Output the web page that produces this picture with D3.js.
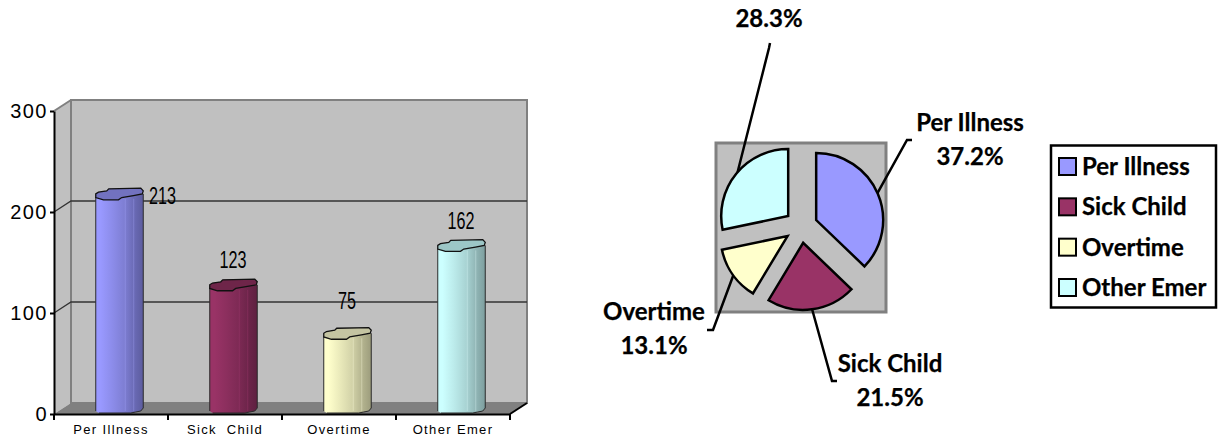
<!DOCTYPE html>
<html><head><meta charset="utf-8">
<script src="https://cdn.jsdelivr.net/npm/d3@7"></script>
<style>
html,body{margin:0;padding:0;background:#fff}
svg{display:block}
.ax text{font-family:"Liberation Sans",Arial,sans-serif;fill:#000}
.pl{font-family:Lato,"Open Sans",sans-serif;font-weight:700;fill:#000;font-size:24px;stroke:#000;stroke-width:.25px}
</style></head><body>
<svg id="c" width="1220" height="447"></svg>
<script>
const categories=["Per Illness","Sick  Child","Overtime","Other Emer"];
const pieNames=["Per Illness","Sick Child","Overtime","Other Emer"];
const values=[213,123,75,162];
const yTicks=[0,100,200,300];
const colors=["#9999ff","#993366","#ffffcc","#ccffff"];
const shadeColors=["#5c5c9e","#5e2040","#9c9c7c","#7d9e9e"];
const topColors=["#7272bf","#6e2549","#c4c4a2","#9cc6c6"];
// label placement, relative to the top of each bar
const barLabelShift=[[43,5],[0,-22],[0,-29],[0,-21]];
// pie label layout
const pieLabelPos=[[970,131],[890,372],[654,320],[769,-7]];
const leaderEnds=[[[907,140],[912,140]],[[832,381],[837,381]],[[713,330],[707,330]],[[769,48],[770,43]]];

const svg=d3.select("#c");
const defs=svg.append("defs");
const depth={x:17,y:-11};
const x=d3.scaleBand().domain(categories).range([54,510]);
const y=d3.scaleLinear().domain([0,300]).range([414,111]);
const barW=47.5;

// walls
const yTop=y(300),base=y(0),L=x.range()[0],R=x.range()[1];
const g=svg.append("g");
const line=d3.line();
g.append("path").attr("d",line([[L,yTop],[L+depth.x,yTop+depth.y],[L+depth.x,base+depth.y],[L,base]])+"Z").attr("fill","#c0c0c0");
g.append("rect").attr("x",L+depth.x).attr("y",yTop+depth.y).attr("width",R-L).attr("height",base-yTop)
 .attr("fill","#c0c0c0").attr("stroke","#808080").attr("stroke-width",2);
g.append("path").attr("d",line([[L,base],[L+depth.x,base+depth.y],[R+depth.x,base+depth.y],[R,base]])+"Z").attr("fill","#808080");
// gridlines
yTicks.filter(t=>t>0&&t<300).forEach(t=>{
  g.append("path").attr("d",line([[L,y(t)],[L+depth.x,y(t)+depth.y],[R+depth.x,y(t)+depth.y]]))
   .attr("fill","none").attr("stroke","#333").attr("stroke-width",1.3);
});
g.append("path").attr("d",line([[L,yTop],[L+depth.x,yTop+depth.y]])).attr("stroke","#808080").attr("stroke-width",2);
g.append("path").attr("d",line([[R,base],[R+depth.x,base+depth.y]])).attr("stroke","#000").attr("stroke-width",2);

// bars
const topFace=[[0,0],[2.7,-1.7],[11,-3],[13,-5],[45,-5.7],[47.5,-3],[46.5,0],[37.7,1.7],[26,3.7],[22.7,6],[7.7,6],[0,3.7]];
values.forEach((v,i)=>{
  const id="grad"+i;
  const gr=defs.append("linearGradient").attr("id",id);
  const mix=d3.interpolateRgb(colors[i],shadeColors[i]);
  [[0,.0],[.1,.0],[.35,.22],[.6,.45],[.8,.75],[1,1]].forEach(s=>gr.append("stop").attr("offset",s[0]).attr("stop-color",mix(s[1])));
  const x0=x(categories[i])+x.bandwidth()/2+8.5-barW/2, x1=x0+barW;
  const yt=y(v)-5, yb=y(0)-1;
  const bar=svg.append("g");
  const edge="#2b2b2b";
  bar.append("path").attr("d",line([[x0,yt+3],[x0,yb-2],[x0+3,yb],[x0+35,yb],[x0+40,yb-1],[x0+45,yb-2],[x1,yb-5],[x1,yt]])+"Z")
    .attr("fill",`url(#${id})`).attr("stroke","none");
  [[x0,yt+3,x0,yb-2],[x1,yt,x1,yb-5]].forEach(p=>bar.append("line").attr("x1",p[0]).attr("y1",p[1]).attr("x2",p[2]).attr("y2",p[3]).attr("stroke",edge).attr("stroke-width",1));
  bar.append("path").attr("d",line([[x0+3,yb],[x0+35,yb],[x0+40,yb-1],[x0+45,yb-2],[x1,yb-5]])).attr("fill","none").attr("stroke",edge).attr("stroke-width",1);
  [29.5,38].forEach(d=>bar.append("line").attr("x1",x0+d).attr("x2",x0+d).attr("y1",yt+5).attr("y2",yb-2).attr("stroke",d3.color(colors[i]).brighter(.3)).attr("stroke-opacity",.35));
  bar.append("path").attr("d",line(topFace.map(p=>[x0+p[0],yt+p[1]]))+"Z").attr("fill",topColors[i]).attr("stroke","#111").attr("stroke-width",1.3);
  const c=x0+barW/2+barLabelShift[i][0]-(i==0?0:0.5);
  svg.append("text").attr("class","val").attr("x",c).attr("y",y(v)+barLabelShift[i][1]).attr("text-anchor","middle")
    .attr("font-family","Liberation Sans,Arial,sans-serif").attr("font-size",23)
    .attr("textLength",String(v).length*9).attr("lengthAdjust","spacingAndGlyphs").text(v);
});

// axes
const ya=svg.append("g").attr("class","ax").attr("transform",`translate(${L},0)`)
  .call(d3.axisLeft(y).tickValues(yTicks).tickSize(4).tickPadding(2).tickSizeOuter(0));
ya.selectAll("path,line").attr("stroke","#000").attr("stroke-width",2);
ya.selectAll("text").attr("font-size",20).style("letter-spacing","1.5px");
const xa=svg.append("g").attr("class","ax").attr("transform",`translate(0,${base})`)
  .call(d3.axisBottom(x).tickSize(0).tickSizeOuter(0).tickPadding(11));
xa.selectAll("path").attr("stroke","#000").attr("stroke-width",2);
xa.selectAll("line").remove();
xa.selectAll("text").attr("font-size",13).style("letter-spacing","1.35px").style("white-space","pre");
d3.range(categories.length+1).forEach(k=>{
  svg.append("line").attr("x1",L+k*x.step()).attr("x2",L+k*x.step()).attr("y1",base).attr("y2",base+6).attr("stroke","#000").attr("stroke-width",2);
});

// pie
const cx=801,cy=226.5,r=67,off=16.5;
svg.append("rect").attr("x",716).attr("y",143).attr("width",170).attr("height",169)
  .attr("fill","#c0c0c0").attr("stroke","#808080").attr("stroke-width",3);
const pie=d3.pie().sort(null)(values);
const total=d3.sum(values);
const arc=d3.arc().innerRadius(0).outerRadius(r);
const mid=d=>(d.startAngle+d.endAngle)/2;
const pt=(a,rad)=>[cx+rad*Math.sin(a),cy-rad*Math.cos(a)];
pie.forEach((d,i)=>{
  svg.append("path").attr("d",line([pt(mid(d),off+r-1),...leaderEnds[i]])).attr("fill","none").attr("stroke","#000").attr("stroke-width",2.5);
});
pie.forEach((d,i)=>{
  const o=pt(mid(d),off);
  svg.append("path").attr("d",arc(d)).attr("transform",`translate(${o})`).attr("fill",colors[i]).attr("stroke","#000").attr("stroke-width",2.5).attr("stroke-linejoin","miter");
  const p=pieLabelPos[i];
  if(i<3) svg.append("text").attr("class","pl").attr("x",p[0]).attr("y",p[1]).attr("text-anchor","middle").text(pieNames[i]);
  svg.append("text").attr("class","pl").attr("x",p[0]).attr("y",p[1]+34).attr("text-anchor","middle").text((d.value/total*100).toFixed(1)+"%");
});

// legend
svg.append("rect").attr("x",1051).attr("y",145.5).attr("width",165).attr("height",162).attr("fill","#fff").attr("stroke","#000").attr("stroke-width",2.5);
const ly=d3.scalePoint().domain(pieNames).range([175,296]);
pieNames.forEach((n,i)=>{
  svg.append("rect").attr("x",1059).attr("y",ly(n)-17).attr("width",17).attr("height",17).attr("fill",colors[i]).attr("stroke","#000").attr("stroke-width",2);
  svg.append("text").attr("class","pl").attr("x",1082).attr("y",ly(n)).text(n);
});
</script></body></html>
